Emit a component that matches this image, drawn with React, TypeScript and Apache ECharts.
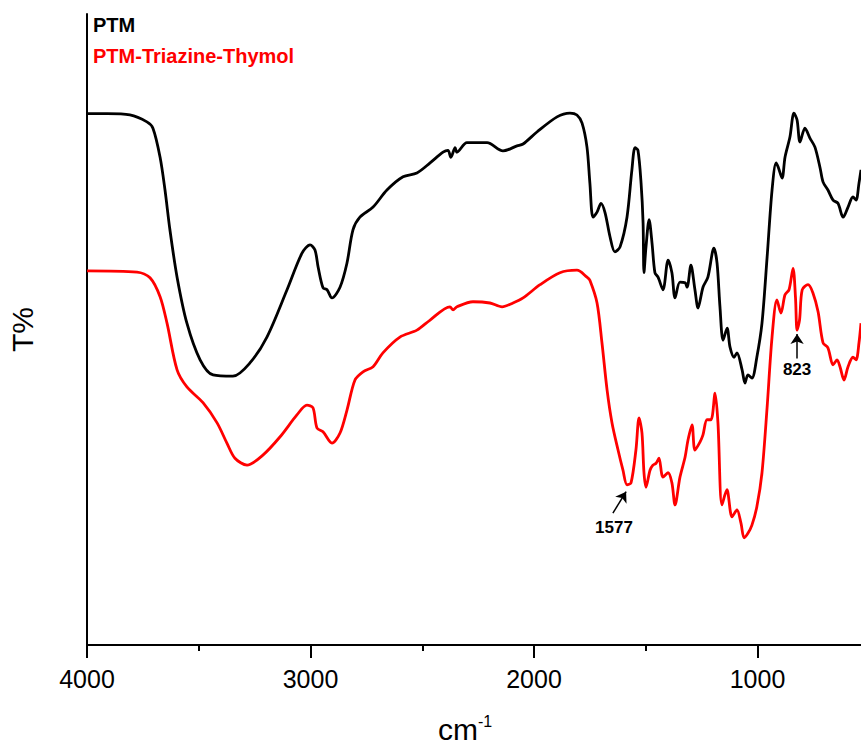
import React, { useEffect, useRef } from "react";
import * as echarts from "echarts";

// FTIR spectra: [wavenumber (cm-1), transmittance (arb. %)]
const ptmSeriesName = "PTM";
const ptmSpectrum: [number, number][] = [
  [4000, 84.2], [3910, 84.2], [3808, 84.0], [3732, 82.9], [3705, 81.9], [3673, 77.3], [3651, 72.1],
  [3629, 65.8], [3597, 58.3], [3553, 51.0], [3494, 45.2], [3436, 42.8], [3347, 42.6], [3271, 44.7],
  [3195, 48.8], [3105, 56.3], [3038, 62.1], [3002, 63.4], [2980, 62.6], [2966, 59.9], [2944, 56.6],
  [2926, 56.3], [2904, 55.0], [2868, 56.7], [2837, 60.5], [2810, 65.8], [2779, 67.8], [2720, 69.4],
  [2658, 72.1], [2586, 74.2], [2524, 74.8], [2465, 76.4], [2407, 78.1], [2385, 78.4], [2372, 77.3],
  [2353, 78.8], [2345, 78.1], [2300, 79.6], [2210, 79.6], [2139, 78.3], [2076, 79.1], [2049, 79.4],
  [1987, 81.3], [1897, 83.7], [1839, 84.3], [1808, 84.0], [1785, 82.7], [1763, 78.9], [1750, 73.2],
  [1736, 67.8], [1718, 68.6], [1700, 70.0], [1682, 68.5], [1660, 64.7], [1638, 62.3], [1615, 63.1],
  [1584, 67.8], [1562, 75.3], [1548, 78.8], [1535, 78.4], [1521, 73.2], [1512, 66.9], [1508, 59.0],
  [1499, 63.1], [1485, 67.4], [1472, 63.7], [1459, 59.0], [1445, 58.3], [1423, 56.3], [1400, 61.0],
  [1383, 59.0], [1369, 55.0], [1347, 57.5], [1324, 57.4], [1315, 56.7], [1298, 60.2], [1280, 56.3],
  [1266, 53.4], [1244, 56.7], [1222, 58.3], [1195, 62.9], [1181, 60.5], [1168, 53.6], [1154, 48.3],
  [1136, 50.2], [1123, 47.2], [1105, 45.6], [1092, 46.3], [1069, 43.6], [1056, 41.5], [1043, 42.8],
  [1025, 42.3], [1003, 45.6], [980, 51.0], [957, 61.5], [935, 72.1], [917, 76.4], [908, 75.8],
  [890, 74.0], [877, 77.3], [855, 80.5], [837, 84.3], [823, 83.2], [810, 79.7], [788, 81.9],
  [765, 80.3], [743, 78.9], [720, 75.6], [707, 73.4], [685, 72.1], [662, 70.5], [640, 70.0],
  [617, 67.8], [595, 69.4], [573, 71.0], [559, 70.5], [546, 73.2], [537, 75.3],
];

const hybridSeriesName = "PTM-Triazine-Thymol";
const hybridSpectrum: [number, number][] = [
  [4000, 59.3], [3776, 59.1], [3718, 58.2], [3673, 55.2], [3642, 51.0], [3597, 43.6], [3553, 40.9],
  [3481, 38.4], [3418, 35.2], [3374, 32.0], [3338, 29.6], [3284, 28.5], [3213, 30.1], [3136, 33.0],
  [3060, 36.5], [3016, 38.0], [2989, 37.6], [2971, 34.4], [2944, 33.8], [2904, 32.0], [2868, 33.6],
  [2837, 37.2], [2801, 42.0], [2765, 43.3], [2720, 44.1], [2676, 46.3], [2600, 48.8], [2524, 49.9],
  [2465, 51.5], [2376, 53.6], [2362, 53.1], [2345, 53.6], [2273, 54.4], [2197, 54.2], [2143, 53.6],
  [2094, 54.2], [2049, 55.0], [1973, 57.1], [1884, 59.0], [1808, 59.4], [1763, 58.3], [1750, 57.8],
  [1718, 54.2], [1696, 47.9], [1673, 40.4], [1651, 35.2], [1624, 30.9], [1602, 27.7], [1584, 25.4],
  [1566, 25.7], [1544, 30.9], [1530, 36.0], [1517, 33.6], [1508, 27.3], [1499, 25.0], [1481, 27.7],
  [1468, 28.5], [1454, 28.8], [1441, 29.6], [1423, 26.6], [1400, 27.3], [1383, 25.7], [1369, 22.2],
  [1347, 26.6], [1324, 29.8], [1311, 32.5], [1293, 34.9], [1280, 30.9], [1257, 32.2], [1244, 33.3],
  [1226, 35.7], [1208, 35.7], [1190, 39.9], [1177, 35.2], [1159, 22.2], [1137, 24.6], [1114, 20.3],
  [1092, 21.4], [1074, 19.3], [1060, 17.0], [1043, 17.7], [1025, 19.0], [1003, 21.9], [980, 27.3],
  [957, 37.7], [935, 48.8], [913, 54.7], [895, 52.6], [877, 55.5], [859, 56.3], [841, 59.7],
  [830, 55.0], [823, 49.9], [812, 51.5], [800, 56.3], [774, 57.1], [752, 55.8], [729, 52.8],
  [707, 47.9], [685, 47.1], [662, 44.4], [644, 45.2], [631, 44.1], [613, 42.0], [595, 44.1],
  [573, 45.6], [559, 45.2], [546, 47.9], [537, 51.0],
];

// Axis ticks
const majorTicks = [1000, 2000, 3000, 4000];
const minorTicks = [1500, 2500, 3500];
const xMin = 537;
const xMax = 4000;

// Peak annotations: label text, label position, arrow tail, arrow head (data units)
const peakLabels = ["1577", "823"];
const peakLabelPos: [number, number][] = [[1642, 18.7], [823, 43.6]];
const arrowTails: [number, number][] = [[1647, 20.9], [823, 45.4]];
const arrowHeads: [number, number][] = [[1588, 24.3], [823, 49.3]];

const FONT = "'Liberation Sans', Arial, Helvetica, sans-serif";

export default function App() {
  const ref = useRef<HTMLDivElement | null>(null);

  useEffect(() => {
    if (!ref.current) return;
    const chart = echarts.init(ref.current, null, { renderer: "svg" });

    const lineCommon = {
      type: "line",
      xAxisIndex: 0,
      showSymbol: false,
      smooth: 0.3,
      emphasis: { disabled: true },
      silent: true,
    };

    const option: any = {
      animation: false,
      backgroundColor: "#ffffff",
      textStyle: { fontFamily: FONT },
      grid: { left: 87, right: 0, top: 14, bottom: 99, containLabel: false, outerBoundsMode: "none" },
      legend: {
        show: true,
        orient: "vertical",
        left: 83,
        top: 10,
        itemWidth: 0,
        itemHeight: 0,
        itemGap: 11,
        icon: "rect",
        selectedMode: false,
        textStyle: { fontFamily: FONT, fontWeight: "bold", fontSize: 20, lineHeight: 20 },
        data: [
          { name: ptmSeriesName, textStyle: { color: "#000000" } },
          { name: hybridSeriesName, textStyle: { color: "#ff0000" } },
        ],
      },
      xAxis: [
        {
          type: "value",
          min: xMin,
          max: xMax,
          inverse: true,
          position: "bottom",
          name: "{a|cm}{b|-1}",
          nameLocation: "middle",
          nameGap: 68,
          nameTextStyle: {
            padding: [0, 18, 0, 0],
            rich: {
              a: { fontFamily: FONT, fontSize: 30, color: "#000", lineHeight: 32 },
              b: { fontFamily: FONT, fontSize: 16, color: "#000", verticalAlign: "top", lineHeight: 16 },
            },
          },
          axisLine: { show: true, onZero: false, lineStyle: { color: "#000", width: 2 } },
          axisTick: { show: true, customValues: majorTicks, length: 13, lineStyle: { color: "#000", width: 2 } },
          axisLabel: {
            show: true,
            customValues: majorTicks,
            margin: 21,
            fontSize: 25,
            color: "#000",
            fontFamily: FONT,
            formatter: (v: number) => String(v),
          },
          splitLine: { show: false },
        },
        {
          type: "value",
          min: xMin,
          max: xMax,
          inverse: true,
          position: "bottom",
          axisLine: { show: false },
          axisTick: { show: true, customValues: minorTicks, length: 6, lineStyle: { color: "#000", width: 2 } },
          axisLabel: { show: false },
          splitLine: { show: false },
        },
      ],
      yAxis: {
        type: "value",
        min: 0,
        max: 100,
        name: "T%",
        nameLocation: "middle",
        nameRotate: 90,
        nameGap: 50,
        nameTextStyle: { fontFamily: FONT, fontSize: 30, color: "#000" },
        axisLine: { show: true, onZero: false, lineStyle: { color: "#000", width: 2 } },
        axisTick: { show: false },
        axisLabel: { show: false },
        splitLine: { show: false },
      },
      series: [
        {
          ...lineCommon,
          name: ptmSeriesName,
          data: ptmSpectrum,
          lineStyle: { color: "#000000", width: 2.8 },
          itemStyle: { color: "#000000" },
        },
        {
          ...lineCommon,
          name: hybridSeriesName,
          data: hybridSpectrum,
          lineStyle: { color: "#ff0000", width: 2.8 },
          itemStyle: { color: "#ff0000" },
          markLine: {
            silent: true,
            symbol: ["none", "arrow"],
            symbolSize: 10,
            lineStyle: { color: "#000", width: 1.5, type: "solid" },
            label: { show: false },
            emphasis: { disabled: true },
            data: arrowTails.map((t, i) => [
              { coord: t },
              { coord: arrowHeads[i] },
            ]),
          },
          markPoint: {
            silent: true,
            symbol: "circle",
            symbolSize: 1,
            itemStyle: { color: "rgba(0,0,0,0)" },
            label: {
              show: true,
              position: "inside",
              color: "#000",
              fontFamily: FONT,
              fontWeight: "bold",
              fontSize: 17,
              formatter: (p: any) => p.name,
            },
            data: peakLabels.map((name, i) => ({ name, coord: peakLabelPos[i] })),
          },
        },
      ],
    };

    chart.setOption(option);
    return () => chart.dispose();
  }, []);

  return (
    <div
      ref={ref}
      style={{ position: "absolute", left: 0, top: 0, width: 861, height: 744, background: "#fff" }}
    />
  );
}
